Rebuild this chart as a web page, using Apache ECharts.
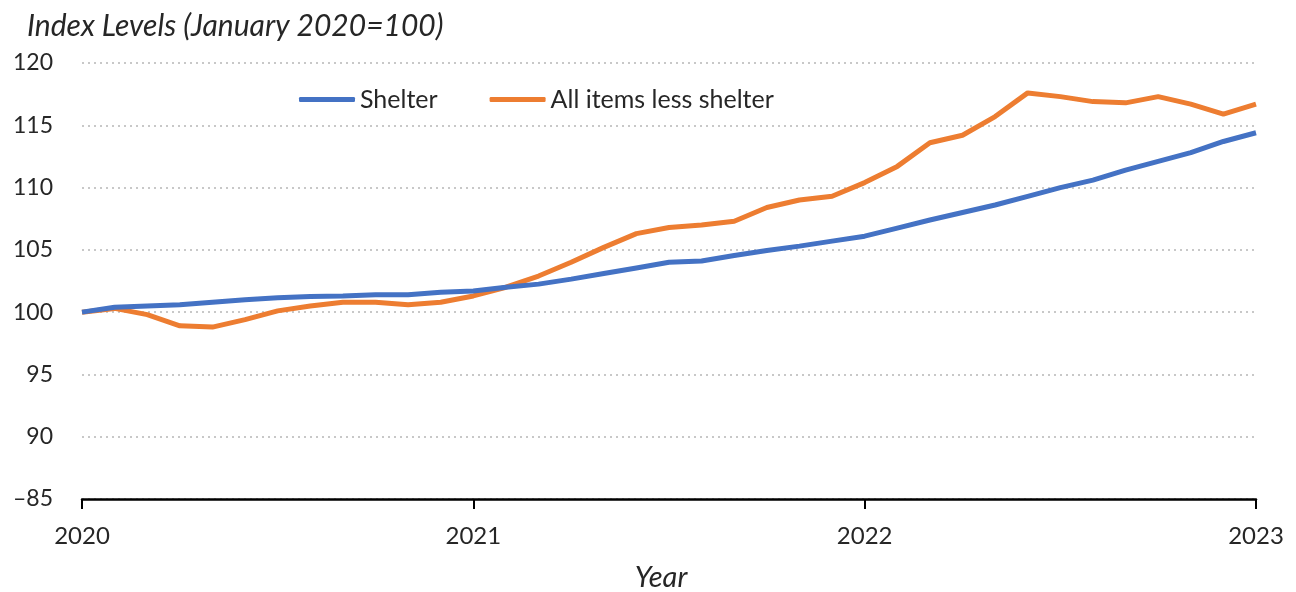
<!DOCTYPE html>
<html>
<head>
<meta charset="utf-8">
<script src="https://cdn.jsdelivr.net/npm/echarts@6/dist/echarts.min.js"></script>
<style>
html,body{margin:0;padding:0;background:#fff;}
#chart{width:1296px;height:592px;}
</style>
</head>
<body>
<div id="chart"></div>
<script>
// Monthly index levels, Jan 2020 (0) .. Jan 2023 (36)
const months = Array.from({length: 37}, (_, i) => i);
const shelter = [100.0, 100.4, 100.5, 100.6, 100.8, 101.0, 101.15, 101.25, 101.3, 101.4, 101.4, 101.6,
  101.7, 102.0, 102.25, 102.65, 103.1, 103.55, 104.0, 104.1, 104.55, 104.95, 105.3, 105.7,
  106.1, 106.75, 107.4, 108.0, 108.6, 109.3, 110.0, 110.6, 111.4, 112.1, 112.8, 113.7,
  114.4];
const lessShelter = [100.0, 100.3, 99.8, 98.9, 98.8, 99.4, 100.1, 100.5, 100.8, 100.8, 100.6, 100.8,
  101.3, 102.0, 102.9, 104.0, 105.2, 106.3, 106.8, 107.0, 107.3, 108.4, 109.0, 109.3,
  110.4, 111.7, 113.6, 114.2, 115.7, 117.6, 117.3, 116.9, 116.8, 117.3, 116.7, 115.9,
  116.7];
const seriesNames = ['Shelter', 'All items less shelter'];
const yearLabels = ['2020', '2021', '2022', '2023'];
const yTitle = 'Index Levels (January 2020=100)';
const xTitle = 'Year';

const chart = echarts.init(document.getElementById('chart'));
const font = 'Lato, "Open Sans", sans-serif';
chart.setOption({
  animation: false,
  backgroundColor: '#ffffff',
  grid: {left: 82, right: 40, top: 63, bottom: 93},
  legend: {
    left: 294, top: 82,
    itemWidth: 56, itemHeight: 5, itemGap: 52,
    icon: 'roundRect',
    textStyle: {fontFamily: font, fontSize: 25, color: '#262626'},
    data: seriesNames
  },
  graphic: [
    {type: 'text', left: 27, top: 11, style: {text: yTitle, fontFamily: font, fontSize: 30, fontStyle: 'italic', fill: '#262626'}},
    {type: 'text', x: 661, y: 578, style: {text: xTitle, fontFamily: font, fontSize: 29, fontStyle: 'italic', fill: '#262626', align: 'center', verticalAlign: 'middle'}}
  ],
  xAxis: {
    type: 'value', min: 0, max: 36, interval: 12,
    axisLine: {show: true, lineStyle: {color: '#000', width: 2.5}},
    axisTick: {show: true, length: 10, lineStyle: {color: '#000', width: 2}},
    axisLabel: {fontFamily: font, fontSize: 24, color: '#262626', margin: 25,
      formatter: v => yearLabels[v / 12]},
    splitLine: {show: false}
  },
  yAxis: {
    type: 'value', min: 85, max: 120, interval: 5,
    axisLine: {show: false},
    axisTick: {show: false},
    axisLabel: {fontFamily: font, fontSize: 23, color: '#262626', margin: 29,
      formatter: v => v === 85 ? '\u201385' : String(v)},
    splitLine: {show: true, lineStyle: {color: '#c8c8c8', type: [2, 4], width: 2}}
  },
  series: [
    {name: seriesNames[0], type: 'line', data: months.map((m, i) => [m, shelter[i]]),
     showSymbol: false, lineStyle: {color: '#4472C4', width: 5}, itemStyle: {color: '#4472C4'}, z: 3},
    {name: seriesNames[1], type: 'line', data: months.map((m, i) => [m, lessShelter[i]]),
     showSymbol: false, lineStyle: {color: '#ED7D31', width: 5}, itemStyle: {color: '#ED7D31'}, z: 2}
  ]
});
</script>
</body>
</html>
